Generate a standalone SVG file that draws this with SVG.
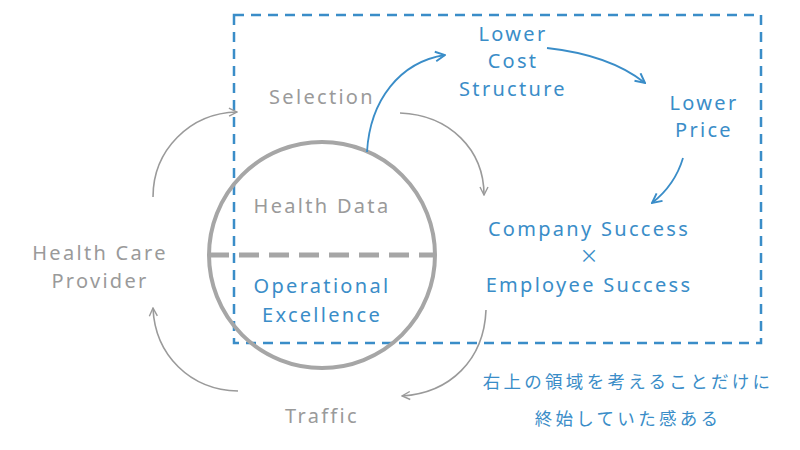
<svg xmlns="http://www.w3.org/2000/svg" width="800" height="450" viewBox="0 0 800 450">
<defs>
<style>
text{font-family:"Noto Sans","Noto Sans CJK JP",sans-serif;text-anchor:middle}
.g{fill:#9a9a9a;font-size:20px;letter-spacing:2.3px}
.b{fill:#3a8dc8;font-size:20px;letter-spacing:2.3px}
.x{font-family:"Noto Sans CJK JP",sans-serif;font-size:19px;letter-spacing:0}
.jp{fill:#3a8dc8;font-size:17.5px;letter-spacing:3.3px;font-family:"Noto Sans CJK JP",sans-serif}
.ag{fill:none;stroke:#9a9a9a;stroke-width:1.6;marker-end:url(#mg)}
.ab{fill:none;stroke:#3a8dc8;stroke-width:1.8;marker-end:url(#mb)}
</style>
<marker id="mg" viewBox="0 0 10 10" refX="9" refY="5" markerWidth="10" markerHeight="10" markerUnits="userSpaceOnUse" orient="auto"><path d="M1,1 L9,5 L1,9" fill="none" stroke="#9a9a9a" stroke-width="1.4"/></marker>
<marker id="mb" viewBox="0 0 10 10" refX="9" refY="5" markerWidth="12" markerHeight="12" markerUnits="userSpaceOnUse" orient="auto"><path d="M1,1 L9,5 L1,9" fill="none" stroke="#3a8dc8" stroke-width="1.6"/></marker>
</defs>
<rect width="800" height="450" fill="#fff"/>
<rect id="region" x="234" y="15" width="527" height="328" fill="none" stroke="#3a8dc8" stroke-width="2.5" stroke-dasharray="10 7"/>
<g id="circle">
<circle cx="322" cy="255" r="113" fill="none" stroke="#a6a6a6" stroke-width="4"/>
<line x1="209" y1="255" x2="435" y2="255" stroke="#a6a6a6" stroke-width="5" stroke-dasharray="20 10"/>
</g>
<g id="connectors">
<path class="ab" d="M367,152 C370,100 400,62 445,55"/>
<path class="ab" d="M547,48 Q610,55 645,83"/>
<path class="ab" d="M683,158 Q675,185 652,203"/>
<path class="ag" d="M400,113 C450,115 484,150 484,195"/>
<path class="ag" d="M486,310 C484,360 450,393 402,396"/>
<path class="ag" d="M238,391 C190,390 155,355 153,308"/>
<path class="ag" d="M153,197 C153,150 190,113 237,112"/>
</g>
<g id="selection"><text class="g" x="322" y="104">Selection</text></g>
<g id="health-data"><text class="g" x="322" y="213">Health Data</text></g>
<g id="operational-excellence"><text class="b" x="322" y="293">Operational</text><text class="b" x="322" y="322">Excellence</text></g>
<g id="health-care-provider"><text class="g" x="100" y="260">Health Care</text><text class="g" x="100" y="288">Provider</text></g>
<g id="traffic"><text class="g" x="322" y="423">Traffic</text></g>
<g id="lower-cost"><text class="b" x="513" y="41">Lower</text><text class="b" x="513" y="68">Cost</text><text class="b" x="513" y="96">Structure</text></g>
<g id="lower-price"><text class="b" x="704" y="110">Lower</text><text class="b" x="704" y="137">Price</text></g>
<g id="success"><text class="b" x="589" y="236">Company Success</text><text class="b x" x="589" y="263">×</text><text class="b" x="589" y="292">Employee Success</text></g>
<g id="note"><text class="jp" x="628" y="388">右上の領域を考えることだけに</text><text class="jp" x="628" y="425">終始していた感ある</text></g>
</svg>
